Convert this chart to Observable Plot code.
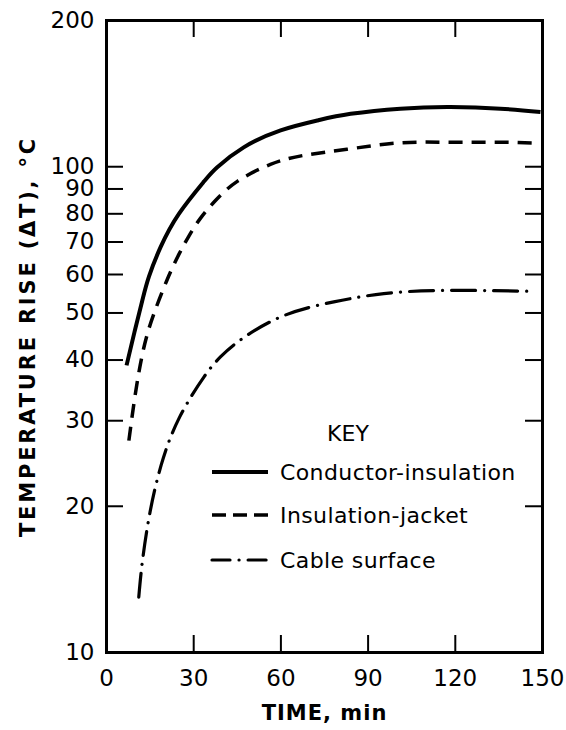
<!DOCTYPE html>
<html><head><meta charset="utf-8">
<script src="https://cdn.jsdelivr.net/npm/d3@7"></script>
<script src="https://cdn.jsdelivr.net/npm/@observablehq/plot@0.6"></script>
<style>
body{margin:0;background:#fff;}
#chart{position:relative;width:566px;height:730px;}
</style></head><body><div id="chart"></div>
<script>
// ---- data ----
const xTicks = [0, 30, 60, 90, 120, 150];
const yTicks = [10, 20, 30, 40, 50, 60, 70, 80, 90, 100, 200];
const seriesNames = ["Conductor-insulation", "Insulation-jacket", "Cable surface"];
const keyTitle = "KEY";
const xLabel = "TIME, min";
const yLabel = "TEMPERATURE RISE (ΔT), °C";

const condTime = [6.9, 9.6, 12.3, 14.6, 18.6, 24.9, 33.5, 38.1, 47.2, 59.9, 72.5, 84, 101.1, 118.3, 135.5, 149.3];
const condTemp = [39.0, 45.6, 53.0, 59.4, 68.3, 80.0, 93.2, 99.8, 109.6, 118.8, 124.5, 128.5, 131.7, 132.7, 131.7, 129.6];

const jackTime = [7.7, 10, 12.8, 16.2, 20.9, 24.9, 28.3, 32.3, 37.5, 45, 56.4, 67.8, 84, 101.1, 118.3, 135.5, 149.3];
const jackTemp = [27.3, 34.3, 42.3, 49.6, 58.6, 66.0, 71.9, 78.3, 85.2, 93.3, 101.1, 105.5, 108.9, 112.0, 112.3, 112.3, 111.8];

const surfTime = [11.1, 12.3, 14.8, 18.8, 24.9, 33.5, 39.2, 46.1, 60.4, 78.2, 95.4, 112.6, 129.8, 147.6];
const surfTemp = [13.0, 15.3, 19.2, 24.3, 30.3, 36.9, 40.6, 44.0, 49.2, 52.7, 54.8, 55.6, 55.6, 55.4];

// ---- layout ----
const W = 566, H = 730, mL = 106, mR = 24, mT = 20, mB = 78;
const plotW = W - mL - mR, plotH = H - mT - mB;
const TICK = 17;

const styles = [
  {strokeWidth: 4, strokeDasharray: null, strokeLinecap: "butt"},
  {strokeWidth: 3.5, strokeDasharray: "14,9", strokeLinecap: "butt"},
  {strokeWidth: 3.2, strokeDasharray: "24,9,0.1,9", strokeLinecap: "round"}
];
const legendDash = [null, "14,7", "18,9,0.1,9"];

const toRows = (ts, vs, name) => ts.map((t, i) => ({t, v: vs[i], name}));
const series = [
  toRows(condTime, condTemp, seriesNames[0]),
  toRows(jackTime, jackTemp, seriesNames[1]),
  toRows(surfTime, surfTemp, seriesNames[2])
];
const innerY = yTicks.filter(d => d > 10 && d < 200);
const innerX = xTicks.filter(d => d > 0 && d < 150);

const chart = Plot.plot({
  width: W, height: H,
  marginLeft: mL, marginRight: mR, marginTop: mT, marginBottom: mB,
  style: {fontFamily: "'DejaVu Sans', sans-serif", fontSize: "23px", background: "white", color: "black", overflow: "visible"},
  x: {domain: [0, 150]},
  y: {type: "log", domain: [10, 200]},
  marks: [
    Plot.ruleY(innerY, {insetRight: plotW - TICK, strokeWidth: 2}),
    Plot.ruleY(innerY, {insetLeft: plotW - TICK, strokeWidth: 2}),
    Plot.ruleX(innerX, {insetTop: plotH - TICK, strokeWidth: 2}),
    Plot.ruleX(innerX, {insetBottom: plotH - TICK, strokeWidth: 2}),
    Plot.axisY({ticks: yTicks, tickSize: 0, tickPadding: 12, tickFormat: d => String(d), fontSize: 23, label: null}),
    Plot.axisX({ticks: xTicks, tickSize: 0, tickPadding: 17, tickFormat: d => String(d), fontSize: 23, label: null}),
    ...series.map((rows, i) => Plot.line(rows, {x: "t", y: "v", curve: "natural", stroke: "black", ...styles[i]})),
    Plot.frame({strokeWidth: 3}),
    Plot.text([yLabel], {text: d => d, frameAnchor: "left", textAnchor: "middle", lineAnchor: "middle", rotate: -90, dx: -78, fontSize: 21, fontWeight: "bold"}),
    Plot.text([xLabel], {text: d => d, frameAnchor: "bottom", textAnchor: "middle", lineAnchor: "middle", dy: 61, fontSize: 21, fontWeight: "bold"})
  ]
});
document.getElementById("chart").appendChild(chart);

const svg = d3.select(chart);
svg.selectAll("text").filter(function() { return this.textContent === yLabel; }).attr("letter-spacing", "2.8px");
svg.selectAll("text").filter(function() { return this.textContent === xLabel; }).attr("letter-spacing", "1px");

// ---- in-plot key ----
const key = svg.append("g").attr("font-family", "'DejaVu Sans', sans-serif").attr("font-size", 22).attr("fill", "black");
key.append("text").attr("x", 348).attr("y", 433).attr("text-anchor", "middle").attr("dominant-baseline", "central").text(keyTitle);
const keyY = [472, 515, 560];
seriesNames.forEach((name, i) => {
  key.append("line").attr("x1", 212).attr("x2", 268).attr("y1", keyY[i]).attr("y2", keyY[i])
    .attr("stroke", "black").attr("stroke-width", styles[i].strokeWidth)
    .attr("stroke-dasharray", legendDash[i]).attr("stroke-linecap", styles[i].strokeLinecap);
  key.append("text").attr("x", 280).attr("y", keyY[i]).attr("text-anchor", "start").attr("dominant-baseline", "central").attr("letter-spacing", "0.4px").text(name);
});
</script></body></html>
